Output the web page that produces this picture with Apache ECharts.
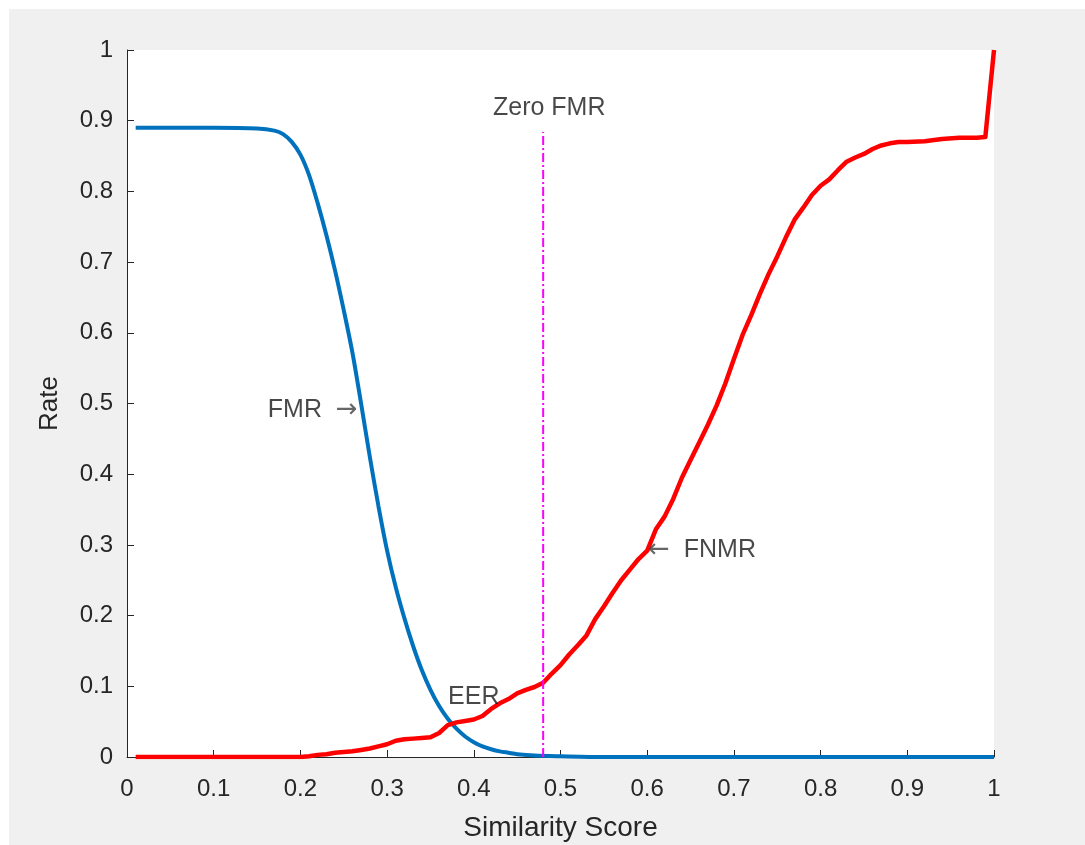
<!DOCTYPE html>
<html>
<head>
<meta charset="utf-8">
<script src="https://cdn.jsdelivr.net/npm/echarts@6/dist/echarts.min.js"></script>
<style>
html,body{margin:0;padding:0;background:#fff;width:1085px;height:845px;overflow:hidden;}
#chart{position:absolute;left:9px;top:9px;width:1076px;height:836px;background:#f0f0f0;}
</style>
</head>
<body>
<div id="chart"></div>
<script>
// FMR curve (x = similarity score, y = rate)
const fmrX = [0.01,0.05,0.10,0.15,0.17,0.18,0.19,0.20,0.21,0.22,0.23,0.24,0.25,0.26,0.27,0.28,0.29,0.30,0.31,0.32,0.33,0.34,0.35,0.36,0.37,0.38,0.39,0.40,0.41,0.42,0.43,0.44,0.45,0.47,0.50,0.55,0.70,0.85,1.00];
const fmrY = [0.890,0.890,0.890,0.889,0.886,0.881,0.870,0.852,0.823,0.783,0.738,0.688,0.632,0.572,0.500,0.425,0.355,0.292,0.240,0.196,0.157,0.123,0.095,0.072,0.054,0.040,0.029,0.021,0.015,0.011,0.008,0.006,0.004,0.002,0.001,0,0,0,0];
// FNMR curve
const fnmrX = [0.01,0.05,0.10,0.15,0.20,0.21,0.22,0.23,0.24,0.25,0.26,0.27,0.28,0.29,0.30,0.31,0.32,0.33,0.34,0.35,0.36,0.37,0.38,0.39,0.40,0.41,0.42,0.43,0.44,0.45,0.46,0.47,0.48,0.49,0.50,0.51,0.52,0.53,0.54,0.55,0.56,0.57,0.58,0.59,0.60,0.61,0.62,0.63,0.64,0.65,0.66,0.67,0.68,0.69,0.70,0.71,0.72,0.73,0.74,0.75,0.76,0.77,0.78,0.79,0.80,0.81,0.82,0.83,0.84,0.85,0.86,0.87,0.88,0.89,0.90,0.92,0.94,0.96,0.98,0.99,1.00];
const fnmrY = [0,0,0,0,0,0.001,0.003,0.004,0.006,0.007,0.008,0.010,0.012,0.015,0.018,0.023,0.025,0.026,0.027,0.028,0.034,0.045,0.049,0.051,0.053,0.058,0.068,0.076,0.082,0.090,0.095,0.099,0.105,0.118,0.130,0.145,0.158,0.172,0.195,0.213,0.232,0.250,0.265,0.280,0.292,0.322,0.340,0.365,0.395,0.420,0.445,0.470,0.497,0.528,0.563,0.597,0.625,0.655,0.683,0.708,0.735,0.760,0.777,0.795,0.808,0.817,0.830,0.842,0.848,0.853,0.860,0.865,0.868,0.870,0.870,0.871,0.874,0.876,0.876,0.877,1.000];
// Zero FMR threshold line
const zeroFmrX = 0.48;
const zeroFmrTop = 0.884;
// Tick labels
const xTicks = ['0','0.1','0.2','0.3','0.4','0.5','0.6','0.7','0.8','0.9','1'];
const yTicks = ['0','0.1','0.2','0.3','0.4','0.5','0.6','0.7','0.8','0.9','1'];
// Text annotations
const notes = [
  {text:'{t|FMR  }{a|\u2192}', x:0.266, y:0.491, align:'right'},
  {text:'{a|\u2190}{t|  FNMR}', x:0.601, y:0.293, align:'left'},
  {text:'{t|EER}', x:0.400, y:0.085, align:'center'},
  {text:'{t|Zero FMR}', x:0.487, y:0.918, align:'center'}
];

const zip = (xs, ys) => xs.map((x, i) => [x, ys[i]]);
const FONT = 'Liberation Sans, Arial, Helvetica, sans-serif';
const chart = echarts.init(document.getElementById('chart'));
chart.setOption({
  backgroundColor: '#f0f0f0',
  animation: false,
  grid: {left:118, top:41, right:91, bottom:88, show:true, backgroundColor:'#ffffff', borderWidth:0,
         containLabel:false, outerBoundsMode:'none'},
  xAxis: {
    type:'value', min:0, max:1, interval:0.1,
    name:'Similarity Score', nameLocation:'middle', nameGap:57,
    nameTextStyle:{fontFamily:FONT, fontSize:28, color:'#262626'},
    axisLine:{show:true, onZero:false, lineStyle:{color:'#262626', width:1}},
    axisTick:{show:true, inside:true, length:7, lineStyle:{color:'#262626'}},
    axisLabel:{margin:20, fontFamily:FONT, fontSize:24, color:'#262626', formatter:(v)=>xTicks[Math.round(v*10)]},
    splitLine:{show:false}
  },
  yAxis: {
    type:'value', min:0, max:1, interval:0.1,
    name:'Rate', nameLocation:'middle', nameGap:64, nameRotate:90,
    nameTextStyle:{fontFamily:FONT, fontSize:26, color:'#262626'},
    axisLine:{show:true, onZero:false, lineStyle:{color:'#262626', width:1}},
    axisTick:{show:true, inside:true, length:7, lineStyle:{color:'#262626'}},
    axisLabel:{margin:14, fontFamily:FONT, fontSize:24, color:'#262626', formatter:(v)=>yTicks[Math.round(v*10)]},
    splitLine:{show:false}
  },
  series: [
    {type:'line', name:'FMR', data:zip(fmrX, fmrY), showSymbol:false, smooth:0.3,
     lineStyle:{color:'#0072BD', width:4}, z:3},
    {type:'line', name:'FNMR', data:zip(fnmrX, fnmrY), showSymbol:false, smooth:false,
     lineStyle:{color:'#FF0000', width:4.5, join:'round'}, z:4},
    {type:'line', name:'Zero FMR', data:[[zeroFmrX,0],[zeroFmrX,zeroFmrTop]], showSymbol:false,
     lineStyle:{color:'#FF00FF', width:2, type:[9,3,2,3]}, z:5},
    {type:'scatter', name:'notes', symbolSize:0, silent:true, z:6,
     data: notes.map(n => ({value:[n.x, n.y], label:{show:true, position:'inside', formatter:n.text, align:n.align,
       verticalAlign:'middle',
       rich:{
         t:{fontFamily:FONT, fontSize:25, color:'#1a1a1a'},
         a:{fontFamily:'DejaVu Sans', fontSize:26, color:'#404040'}
       }}}))}
  ]
});
</script>
</body>
</html>
